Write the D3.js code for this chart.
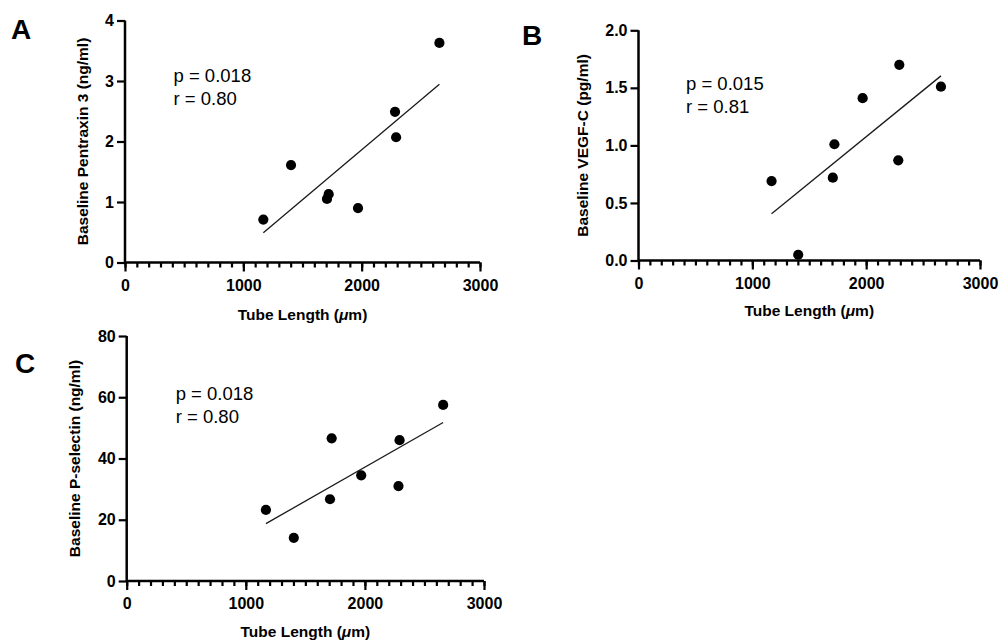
<!DOCTYPE html>
<html>
<head>
<meta charset="utf-8">
<script src="https://cdn.jsdelivr.net/npm/d3@7"></script>
<style>
  html, body { margin: 0; padding: 0; background: #fff; }
  svg { display: block; font-family: "Liberation Sans", Arial, Helvetica, sans-serif; }
</style>
</head>
<body>
<svg id="fig" width="1002" height="641"></svg>
<script>
// Tube length (µm) measured for each of the eight samples
const tubeLength = [1169, 1403, 1707, 1721, 1969, 2282, 2291, 2657];

// Baseline biomarker levels for the same samples
const pentraxin3 = [0.71, 1.61, 1.05, 1.13, 0.90, 2.49, 2.07, 3.63];   // ng/ml
const vegfC      = [0.69, 0.05, 0.72, 1.01, 1.41, 0.87, 1.70, 1.51];   // pg/ml
const pSelectin  = [23.2, 14.1, 26.7, 46.6, 34.5, 31.0, 46.0, 57.5];   // ng/ml

// Axis ticks
const xMajorTicks = [0, 1000, 2000, 3000];
const xMinorTicks = d3.range(0, 3001, 100);
const yTicksA = [0, 1, 2, 3, 4];
const yTicksB = [0, 0.5, 1.0, 1.5, 2.0];
const yTicksC = [0, 20, 40, 60, 80];

// Text
const panelLetters = ["A", "B", "C"];
const yTitles = ["Baseline Pentraxin 3 (ng/ml)", "Baseline VEGF-C (pg/ml)", "Baseline P-selectin (ng/ml)"];
const xTitleParts = ["Tube Length (", "\u03BC", "m)"];
const pLabels = ["p = 0.018", "p = 0.015", "p = 0.018"];
const rLabels = ["r = 0.80", "r = 0.81", "r = 0.80"];

// Panel layout (pixels)
const panels = [
  { values: pentraxin3, yTicks: yTicksA, yFmt: d3.format("d"),
    left: 125, right: 480, top: 20.5, bottom: 262.5,
    letterX: 11, letterY: 38.5, yTitleX: 88, xTitleY: 319.5,
    noteDX: 48.5, noteY: 82.3 },
  { values: vegfC, yTicks: yTicksB, yFmt: d3.format(".1f"),
    left: 638.5, right: 980, top: 30.3, bottom: 260.5,
    letterX: 522, letterY: 45, yTitleX: 588, xTitleY: 315.5,
    noteDX: 47.5, noteY: 89.5 },
  { values: pSelectin, yTicks: yTicksC, yFmt: d3.format("d"),
    left: 126.7, right: 484, top: 336, bottom: 581,
    letterX: 15, letterY: 372.5, yTitleX: 80, xTitleY: 636.5,
    noteDX: 49, noteY: 400 }
];

const svg = d3.select("#fig");
svg.append("rect").attr("width", 1002).attr("height", 641).attr("fill", "#fff");

// Least-squares fit y = a + b x
function linearFit(xs, ys) {
  const mx = d3.mean(xs), my = d3.mean(ys);
  let sxy = 0, sxx = 0;
  xs.forEach((x, i) => { sxy += (x - mx) * (ys[i] - my); sxx += (x - mx) * (x - mx); });
  const b = sxy / sxx;
  return x => my + b * (x - mx);
}

panels.forEach((p, k) => {
  const g = svg.append("g");
  const x = d3.scaleLinear().domain([0, 3000]).range([p.left, p.right]);
  const y = d3.scaleLinear().domain([p.yTicks[0], p.yTicks[p.yTicks.length - 1]]).range([p.bottom, p.top]);

  // x axis: minor ticks every 100, labelled major ticks every 1000
  const xMinor = g.append("g").attr("transform", `translate(0,${p.bottom})`)
    .call(d3.axisBottom(x).tickValues(xMinorTicks).tickSize(5).tickFormat(""));
  const xMajor = g.append("g").attr("transform", `translate(0,${p.bottom})`)
    .call(d3.axisBottom(x).tickValues(xMajorTicks).tickSize(9).tickPadding(8).tickFormat(d3.format("d")));

  // y axis
  const yAx = g.append("g").attr("transform", `translate(${p.left},0)`)
    .call(d3.axisLeft(y).tickValues(p.yTicks).tickSize(8).tickPadding(3).tickFormat(p.yFmt));

  [xMinor, xMajor, yAx].forEach(a => {
    a.select(".domain").attr("stroke", "#000").attr("stroke-width", 2.5);
    a.selectAll(".tick line").attr("stroke", "#000").attr("stroke-width", 2.2);
    a.selectAll(".tick text").attr("fill", "#000")
      .style("font-size", "16px").style("font-weight", "bold")
      .style("font-family", "'Liberation Sans', Arial, sans-serif");
  });
  xMinor.select(".domain").remove();
  xMajor.select(".domain").attr("d", `M${p.left},0H${p.right}`);
  yAx.select(".domain").attr("d", `M0,${p.bottom}V${p.top}`);

  // regression line over the range of the data
  const fit = linearFit(tubeLength, p.values);
  const x0 = d3.min(tubeLength), x1 = d3.max(tubeLength);
  g.append("line")
    .attr("x1", x(x0)).attr("y1", y(fit(x0)))
    .attr("x2", x(x1)).attr("y2", y(fit(x1)))
    .attr("stroke", "#1a1a1a").attr("stroke-width", 1.3);

  // data points
  g.selectAll("circle.pt").data(tubeLength).join("circle")
    .attr("class", "pt")
    .attr("cx", d => x(d))
    .attr("cy", (d, i) => y(p.values[i]))
    .attr("r", 5.1)
    .attr("fill", "#000");

  // statistics note
  g.append("text").attr("x", p.left + p.noteDX).attr("y", p.noteY)
    .attr("font-size", 18.5).attr("fill", "#000").text(pLabels[k]);
  g.append("text").attr("x", p.left + p.noteDX).attr("y", p.noteY + 23)
    .attr("font-size", 18.5).attr("fill", "#000").text(rLabels[k]);

  // axis titles
  const xt = g.append("text")
    .attr("x", (p.left + p.right) / 2).attr("y", p.xTitleY)
    .attr("text-anchor", "middle").attr("font-size", 15.5).attr("font-weight", "bold")
    .attr("fill", "#000");
  xt.append("tspan").text(xTitleParts[0]);
  xt.append("tspan").attr("font-style", "italic").text(xTitleParts[1]);
  xt.append("tspan").text(xTitleParts[2]);

  g.append("text")
    .attr("transform", `translate(${p.yTitleX},${(p.top + p.bottom) / 2}) rotate(-90)`)
    .attr("text-anchor", "middle").attr("font-size", 15.5).attr("font-weight", "bold")
    .attr("fill", "#000").text(yTitles[k]);

  // panel letter
  g.append("text").attr("x", p.letterX).attr("y", p.letterY)
    .attr("font-size", 28).attr("font-weight", "bold").attr("fill", "#000")
    .text(panelLetters[k]);
});
</script>
</body>
</html>
